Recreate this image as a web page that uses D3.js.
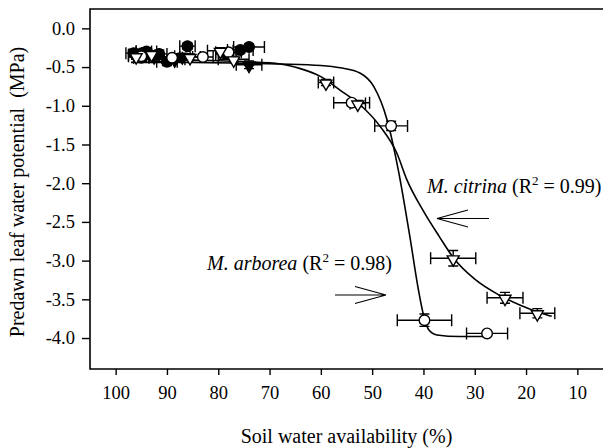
<!DOCTYPE html>
<html><head><meta charset="utf-8">
<script src="https://cdn.jsdelivr.net/npm/d3@7"></script>
<style>
html,body{margin:0;padding:0;background:#fff;}
svg{display:block;}
svg text{font-family:"Liberation Serif","Tinos","Times New Roman","Nimbus Roman","DejaVu Serif",serif;}
</style></head>
<body><svg id="c" width="603" height="448"></svg>
<script>
// ---- data ----
const xTicks = [100, 90, 80, 70, 60, 50, 40, 30, 20, 10];
const yTicks = [0, -0.5, -1.0, -1.5, -2.0, -2.5, -3.0, -3.5, -4.0];

// M. arborea, well-watered (filled circles)
const arbCtrlX = [96.5, 95.0, 94.0, 93.0, 91.5, 90.0, 86.0, 78.5, 75.7, 74.0];
const arbCtrlY = [-0.32, -0.38, -0.30, -0.35, -0.33, -0.43, -0.23, -0.33, -0.28, -0.24];
const arbCtrlXe = [1.5, 1.5, 2.0, 1.5, 1.5, 2.0, 1.5, 2.0, 2.5, 3.0];
const arbCtrlYe = [0.05, 0.04, 0.05, 0.04, 0.05, 0.05, 0.04, 0.04, 0.04, 0.04];

// M. citrina, well-watered (filled triangles)
const citCtrlX = [96.0, 94.5, 92.5, 88.5, 87.0, 74.0];
const citCtrlY = [-0.34, -0.30, -0.36, -0.40, -0.36, -0.47];
const citCtrlXe = [1.5, 1.5, 1.5, 2.0, 1.5, 2.5];
const citCtrlYe = [0.04, 0.04, 0.05, 0.04, 0.04, 0.05];

// M. arborea, drying (open circles)
const arbDryX = [95.0, 89.0, 83.0, 78.0, 54.0, 46.3, 39.8, 27.6];
const arbDryY = [-0.36, -0.38, -0.37, -0.31, -0.96, -1.26, -3.77, -3.94];
const arbDryXe = [1.5, 2.0, 2.0, 2.5, 3.5, 3.2, 5.3, 4.0];
const arbDryYe = [0.04, 0.04, 0.04, 0.04, 0.04, 0.06, 0.08, 0.03];

// M. citrina, drying (open triangles)
const citDryX = [96.0, 93.0, 85.5, 79.6, 77.0, 59.0, 52.8, 34.2, 24.1, 17.8];
const citDryY = [-0.36, -0.33, -0.37, -0.29, -0.40, -0.70, -0.97, -2.97, -3.48, -3.68];
const citDryXe = [1.5, 1.5, 2.0, 2.5, 3.0, 1.5, 1.5, 4.4, 3.5, 3.4];
const citDryYe = [0.04, 0.04, 0.04, 0.04, 0.04, 0.04, 0.04, 0.10, 0.07, 0.06];

// fitted curves
const arbFitX = [97, 85, 75, 67.9, 60, 56.2, 52.3, 49.7, 47.1, 44.9, 42.6, 41.0, 40.0, 39.0, 37.4, 33.0, 27.6];
const arbFitY = [-0.44, -0.44, -0.45, -0.46, -0.48, -0.51, -0.58, -0.75, -1.18, -1.83, -2.71, -3.37, -3.70, -3.89, -3.96, -3.98, -3.98];
const citFitX = [97, 85, 75, 67.9, 64.0, 60.1, 56.2, 52.3, 48.4, 45.2, 43.2, 40.0, 37.0, 34.1, 30.0, 25.4, 21.0, 17.0, 15.0];
const citFitY = [-0.40, -0.41, -0.43, -0.46, -0.52, -0.62, -0.80, -0.99, -1.27, -1.61, -1.96, -2.36, -2.68, -2.97, -3.24, -3.44, -3.58, -3.68, -3.72];

const labels = {
  citrina: {name: "M. citrina", r2: "0.99"},
  arborea: {name: "M. arborea", r2: "0.98"}
};

// ---- drawing ----
const svg = d3.select("#c");
const L = 90, R = 603, T = 9, B = 369;
const x = d3.scaleLinear().domain([105, 5]).range([L, R]);
const y = d3.scaleLinear().domain([0.25, -4.4]).range([T, B]);

// frame
svg.append("path")
  .attr("d", `M${R + 2},${T}H${L}V${B}H${R + 2}`)
  .attr("fill", "none").attr("stroke", "#000").attr("stroke-width", 1.6);

// axes
const xAxis = d3.axisBottom(x).tickValues(xTicks).tickSize(6).tickSizeOuter(0).tickFormat(d => String(d));
const gx = svg.append("g").attr("transform", `translate(0,${B})`).call(xAxis);
gx.attr("font-family", null);
gx.select(".domain").remove();
gx.selectAll(".tick line").attr("stroke", "#000").attr("stroke-width", 1.4);
gx.selectAll(".tick text").attr("font-size", 18.5).attr("fill", "#000").attr("dy", "1.15em");

const yAxis = d3.axisLeft(y).tickValues(yTicks).tickSize(8).tickSizeOuter(0).tickFormat(d => d.toFixed(1));
const gy = svg.append("g").attr("transform", `translate(${L},0)`).call(yAxis);
gy.attr("font-family", null);
gy.select(".domain").remove();
gy.selectAll(".tick line").attr("stroke", "#000").attr("stroke-width", 1.4);
gy.selectAll(".tick text").attr("font-size", 18.5).attr("fill", "#000").attr("x", -15);

// axis titles
svg.append("text").attr("x", (L + R) / 2).attr("y", 443).attr("text-anchor", "middle")
  .attr("font-size", 20).text("Soil water availability (%)");
svg.append("text").attr("transform", `translate(24,${192}) rotate(-90)`).attr("text-anchor", "middle")
  .attr("font-size", 20).style("white-space", "pre")
  .text("Predawn leaf water potential  (MPa)");

// fitted curves
const line = d3.line().x(d => x(d[0])).y(d => y(d[1])).curve(d3.curveMonotoneX);
function fit(xs, ys) { return xs.map((v, i) => [v, ys[i]]).sort((a, b) => b[0] - a[0]); }
svg.append("path").attr("d", line(fit(arbFitX, arbFitY))).attr("fill", "none").attr("stroke", "#000").attr("stroke-width", 1.6);
svg.append("path").attr("d", line(fit(citFitX, citFitY))).attr("fill", "none").attr("stroke", "#000").attr("stroke-width", 1.6);

// series
const series = [
  {xs: arbCtrlX, ys: arbCtrlY, xe: arbCtrlXe, ye: arbCtrlYe, shape: "circle", fill: "#000"},
  {xs: citCtrlX, ys: citCtrlY, xe: citCtrlXe, ye: citCtrlYe, shape: "tri", fill: "#000"},
  {xs: arbDryX, ys: arbDryY, xe: arbDryXe, ye: arbDryYe, shape: "circle", fill: "#fff"},
  {xs: citDryX, ys: citDryY, xe: citDryXe, ye: citDryYe, shape: "tri", fill: "#fff"}
];

const eg = svg.append("g").attr("stroke", "#000").attr("stroke-width", 1.4).attr("fill", "none");
series.forEach(s => {
  s.xs.forEach((xv, i) => {
    const px = x(xv), py = y(s.ys[i]);
    const x1 = x(xv + s.xe[i]), x2 = x(xv - s.xe[i]);
    const y1 = y(s.ys[i] + s.ye[i]), y2 = y(s.ys[i] - s.ye[i]);
    eg.append("path").attr("d",
      `M${x1},${py}H${x2}M${x1},${py - 6}V${py + 6}M${x2},${py - 6}V${py + 6}` +
      `M${px},${y1}V${y2}M${px - 5},${y1}H${px + 5}M${px - 5},${y2}H${px + 5}`);
  });
});

const tri = d3.symbol().type(d3.symbolTriangle).size(62);
const sg = svg.append("g");
series.forEach(s => {
  s.xs.forEach((xv, i) => {
    const px = x(xv), py = y(s.ys[i]);
    if (s.shape === "circle") {
      sg.append("circle").attr("cx", px).attr("cy", py).attr("r", 5.3)
        .attr("fill", s.fill).attr("stroke", "#000").attr("stroke-width", 1.4);
    } else {
      sg.append("path").attr("d", tri()).attr("transform", `translate(${px},${py + 1}) rotate(180)`)
        .attr("fill", s.fill).attr("stroke", "#000").attr("stroke-width", 1.4);
    }
  });
});

// annotations
function label(tx, ty, info) {
  const t = svg.append("text").attr("x", tx).attr("y", ty).attr("font-size", 20);
  t.append("tspan").attr("font-style", "italic").text(info.name);
  t.append("tspan").text(" (R");
  t.append("tspan").attr("font-size", 13).attr("dy", -8).text("2");
  t.append("tspan").attr("dy", 8).text(" = " + info.r2 + ")");
}
label(427, 193, labels.citrina);
label(207, 270, labels.arborea);

// arrows
const ag = svg.append("g").attr("stroke", "#000").attr("stroke-width", 1.2).attr("fill", "none");
ag.append("path").attr("d", "M437,218.5H489M437,218.5L468,210M437,218.5L468,227");
ag.append("path").attr("d", "M335,295H386M386,295L355,286.5M386,295L355,303.5");
</script></body></html>
